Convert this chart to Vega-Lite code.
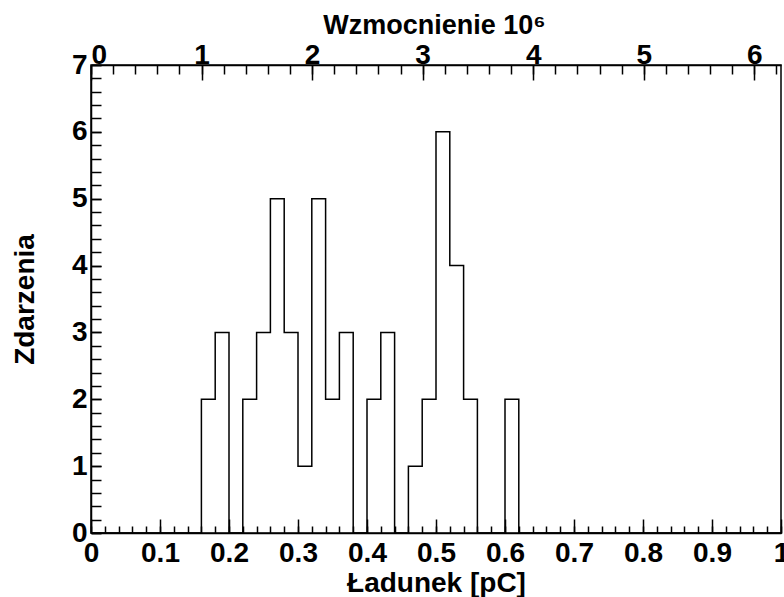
{
  "$schema": "https://vega.github.io/schema/vega-lite/v6.json",
  "width": 690,
  "height": 468,
  "autosize": {"type": "none"},
  "padding": {"left": 91, "top": 65, "right": 3, "bottom": 64},
  "background": "white",
  "config": {
    "view": {"stroke": "black", "strokeWidth": 1.5},
    "axis": {
      "grid": false,
      "domainColor": "black",
      "domainWidth": 1.5,
      "tickColor": "black",
      "tickWidth": 1.5,
      "labelColor": "black",
      "labelFont": "Liberation Sans",
      "labelFontWeight": "bold",
      "labelFontSize": 28,
      "labelOverlap": false,
      "titleColor": "black",
      "titleFont": "Liberation Sans",
      "titleFontWeight": "bold"
    }
  },
  "data": {
    "values": [
      {"x": 0.00, "n": 0}, {"x": 0.02, "n": 0}, {"x": 0.04, "n": 0}, {"x": 0.06, "n": 0},
      {"x": 0.08, "n": 0}, {"x": 0.10, "n": 0}, {"x": 0.12, "n": 0}, {"x": 0.14, "n": 0},
      {"x": 0.16, "n": 2}, {"x": 0.18, "n": 3}, {"x": 0.20, "n": 0}, {"x": 0.22, "n": 2},
      {"x": 0.24, "n": 3}, {"x": 0.26, "n": 5}, {"x": 0.28, "n": 3}, {"x": 0.30, "n": 1},
      {"x": 0.32, "n": 5}, {"x": 0.34, "n": 2}, {"x": 0.36, "n": 3}, {"x": 0.38, "n": 0},
      {"x": 0.40, "n": 2}, {"x": 0.42, "n": 3}, {"x": 0.44, "n": 0}, {"x": 0.46, "n": 1},
      {"x": 0.48, "n": 2}, {"x": 0.50, "n": 6}, {"x": 0.52, "n": 4}, {"x": 0.54, "n": 2},
      {"x": 0.56, "n": 0}, {"x": 0.58, "n": 0}, {"x": 0.60, "n": 2}, {"x": 0.62, "n": 0},
      {"x": 0.64, "n": 0}, {"x": 0.66, "n": 0}, {"x": 0.68, "n": 0}, {"x": 0.70, "n": 0},
      {"x": 0.72, "n": 0}, {"x": 0.74, "n": 0}, {"x": 0.76, "n": 0}, {"x": 0.78, "n": 0},
      {"x": 0.80, "n": 0}, {"x": 0.82, "n": 0}, {"x": 0.84, "n": 0}, {"x": 0.86, "n": 0},
      {"x": 0.88, "n": 0}, {"x": 0.90, "n": 0}, {"x": 0.92, "n": 0}, {"x": 0.94, "n": 0},
      {"x": 0.96, "n": 0}, {"x": 0.98, "n": 0}, {"x": 1.00, "n": 0}
    ]
  },
  "resolve": {"axis": {"x": "independent", "y": "independent"}},
  "layer": [
    {
      "mark": {"type": "line", "interpolate": "step-after", "color": "black", "strokeWidth": 1.5, "clip": true},
      "encoding": {
        "x": {
          "field": "x", "type": "quantitative",
          "scale": {"domain": [0, 1], "nice": false, "zero": false},
          "axis": {
            "orient": "bottom",
            "values": [0, 0.1, 0.2, 0.3, 0.4, 0.5, 0.6, 0.7, 0.8, 0.9, 1],
            "format": "~g",
            "tickSize": -14,
            "labelBaseline": "alphabetic",
            "labelPadding": 42,
            "labelFlush": false,
            "title": "Ładunek [pC]",
            "titleFontSize": 28,
            "titleX": 345,
            "titleY": 58,
            "titleBaseline": "alphabetic",
            "titleAlign": "center"
          }
        },
        "y": {
          "field": "n", "type": "quantitative",
          "scale": {"domain": [0, 7], "nice": false},
          "axis": {
            "orient": "left",
            "values": [0, 1, 2, 3, 4, 5, 6, 7],
            "tickSize": -10,
            "labelPadding": 14,
            "labelFlush": false,
            "title": "Zdarzenia",
            "titleFontSize": 28,
            "titleAngle": -90,
            "titleX": -58,
            "titleY": 234,
            "titleBaseline": "alphabetic",
            "titleAlign": "center"
          }
        }
      }
    },
    {
      "mark": {"type": "line", "interpolate": "step-after", "opacity": 0},
      "encoding": {
        "x": {
          "field": "x", "type": "quantitative",
          "axis": {
            "orient": "bottom",
            "values": [0, 0.02, 0.04, 0.06, 0.08, 0.1, 0.12, 0.14, 0.16, 0.18, 0.2, 0.22, 0.24, 0.26, 0.28, 0.3, 0.32, 0.34, 0.36, 0.38, 0.4, 0.42, 0.44, 0.46, 0.48, 0.5, 0.52, 0.54, 0.56, 0.58, 0.6, 0.62, 0.64, 0.66, 0.68, 0.7, 0.72, 0.74, 0.76, 0.78, 0.8, 0.82, 0.84, 0.86, 0.88, 0.9, 0.92, 0.94, 0.96, 0.98, 1],
            "tickSize": -7,
            "labels": false,
            "domain": false,
            "title": null
          }
        },
        "y": {
          "field": "n", "type": "quantitative",
          "axis": {
            "orient": "left",
            "values": [0, 0.2, 0.4, 0.6, 0.8, 1, 1.2, 1.4, 1.6, 1.8, 2, 2.2, 2.4, 2.6, 2.8, 3, 3.2, 3.4, 3.6, 3.8, 4, 4.2, 4.4, 4.6, 4.8, 5, 5.2, 5.4, 5.6, 5.8, 6, 6.2, 6.4, 6.6, 6.8, 7],
            "tickSize": -10,
            "labels": false,
            "domain": false,
            "title": null
          }
        }
      }
    },
    {
      "mark": {"type": "line", "interpolate": "step-after", "opacity": 0},
      "encoding": {
        "x": {
          "field": "x", "type": "quantitative",
          "axis": {
            "orient": "top",
            "values": [0, 0.160218, 0.320436, 0.480654, 0.640872, 0.801089, 0.961307],
            "labelExpr": "format(datum.value * 6.2415, '.0f')",
            "tickSize": -15,
            "labelBaseline": "alphabetic",
            "labelPadding": 17,
            "labelFlush": true,
            "title": "Wzmocnienie 10⁶",
            "titleFontSize": 27,
            "titleX": 343,
            "titleY": -32,
            "titleBaseline": "alphabetic",
            "titleAlign": "center"
          }
        },
        "y": {"field": "n", "type": "quantitative", "axis": null}
      }
    },
    {
      "mark": {"type": "line", "interpolate": "step-after", "opacity": 0},
      "encoding": {
        "x": {
          "field": "x", "type": "quantitative",
          "axis": {
            "orient": "top",
            "values": [0, 0.032044, 0.064087, 0.096131, 0.128174, 0.160218, 0.192262, 0.224305, 0.256349, 0.288392, 0.320436, 0.352479, 0.384523, 0.416567, 0.44861, 0.480654, 0.512697, 0.544741, 0.576784, 0.608828, 0.640872, 0.672915, 0.704959, 0.737002, 0.769046, 0.801089, 0.833133, 0.865177, 0.89722, 0.929264, 0.961307, 0.993351],
            "tickSize": -9,
            "labels": false,
            "domain": false,
            "title": null
          }
        },
        "y": {"field": "n", "type": "quantitative", "axis": null}
      }
    }
  ]
}
